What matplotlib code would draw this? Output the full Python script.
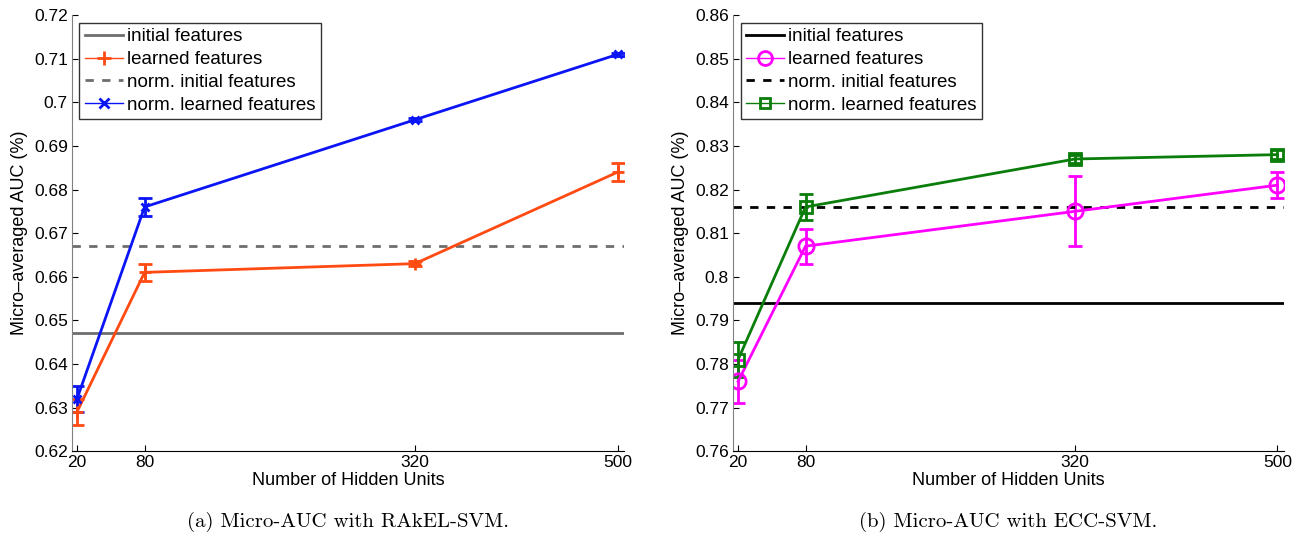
import matplotlib
matplotlib.use("Agg")
import matplotlib.pyplot as plt
from matplotlib.lines import Line2D
from matplotlib.ticker import FixedLocator, FuncFormatter

plt.rcParams["font.family"] = ["Liberation Sans", "DejaVu Sans"]

hidden_units = [20, 80, 320, 500]
series_labels = ["initial features", "learned features",
                 "norm. initial features", "norm. learned features"]

# (a) RAkEL-SVM
rakel_initial = 0.647
rakel_norm_initial = 0.667
rakel_learned = [0.629, 0.661, 0.663, 0.684]
rakel_learned_err = [0.003, 0.002, 0.0005, 0.002]
rakel_norm_learned = [0.632, 0.676, 0.696, 0.711]
rakel_norm_learned_err = [0.003, 0.002, 0.0003, 0.0003]

# (b) ECC-SVM
ecc_initial = 0.794
ecc_norm_initial = 0.816
ecc_learned = [0.776, 0.807, 0.815, 0.821]
ecc_learned_err = [0.005, 0.004, 0.008, 0.003]
ecc_norm_learned = [0.781, 0.816, 0.827, 0.828]
ecc_norm_learned_err = [0.004, 0.003, 0.001, 0.001]

captions = ["(a) Micro-AUC with RAkEL-SVM.", "(b) Micro-AUC with ECC-SVM."]

fig = plt.figure(figsize=(12.94, 5.39), dpi=100)
ax1 = fig.add_axes([0.0556, 0.163, 0.4266, 0.809])
ax2 = fig.add_axes([0.5665, 0.163, 0.4255, 0.809])


def style(ax, ylim):
    ax.set_xlim(15.5, 505.5)
    ax.set_ylim(*ylim)
    ax.spines["top"].set_visible(False)
    ax.spines["right"].set_visible(False)
    ax.spines["left"].set_color("#808080")
    ax.spines["bottom"].set_color("black")
    ax.xaxis.set_major_locator(FixedLocator(hidden_units))
    ax.yaxis.set_major_locator(FixedLocator(
        [round(ylim[0] + 0.01 * i, 2) for i in range(11)]))
    ax.yaxis.set_major_formatter(FuncFormatter(lambda v, p: f"{v:g}"))
    ax.tick_params(direction="in", length=4, width=0.8, labelsize=12.5, pad=3)
    ax.set_xlabel("Number of Hidden Units", fontsize=13, labelpad=1)
    ax.set_ylabel("Micro\u2013averaged AUC (%)", fontsize=13, labelpad=4)


def legend(ax, handles):
    leg = ax.legend(handles=handles, loc="upper left", fontsize=13.5, frameon=True,
                    fancybox=False, handlelength=2.0, handletextpad=0.25,
                    labelspacing=0.3, borderpad=0.3, borderaxespad=0.4)
    leg.get_frame().set_edgecolor("black")
    leg.get_frame().set_linewidth(1.0)


# panel (a)
c_init_a, c_learn_a, c_norm_a = "#6e6e6e", "#ff4a12", "#0a14f5"
ax1.axhline(rakel_initial, color=c_init_a, lw=2)
ax1.errorbar(hidden_units, rakel_learned, yerr=rakel_learned_err, color=c_learn_a,
             lw=2, marker="+", ms=9, mew=2, capsize=5, capthick=2, elinewidth=2)
ax1.axhline(rakel_norm_initial, color=c_init_a, lw=2, ls=(0, (3, 3)))
ax1.errorbar(hidden_units, rakel_norm_learned, yerr=rakel_norm_learned_err, color=c_norm_a,
             lw=2, marker="x", ms=6, mew=2, capsize=5, capthick=2, elinewidth=2)
style(ax1, (0.62, 0.72))
legend(ax1, [
    Line2D([], [], color=c_init_a, lw=2, label=series_labels[0]),
    Line2D([], [], color=c_learn_a, lw=1, marker="+", ms=10, mew=2, label=series_labels[1]),
    Line2D([], [], color=c_init_a, lw=2, ls=(0, (3, 3)), label=series_labels[2]),
    Line2D([], [], color=c_norm_a, lw=1, marker="x", ms=7, mew=2, label=series_labels[3]),
])

# panel (b)
c_init_b, c_learn_b, c_norm_b = "black", "#ff00ff", "#0a7d0a"
ax2.axhline(ecc_initial, color=c_init_b, lw=2)
ax2.errorbar(hidden_units, ecc_learned, yerr=ecc_learned_err, color=c_learn_b,
             lw=2, marker="o", ms=11, mfc="none", mew=2, capsize=5, capthick=2,
             elinewidth=2)
ax2.axhline(ecc_norm_initial, color=c_init_b, lw=2, ls=(0, (3, 3)))
ax2.errorbar(hidden_units, ecc_norm_learned, yerr=ecc_norm_learned_err, color=c_norm_b,
             lw=2, marker="s", ms=8, mfc="none", mew=2, capsize=5, capthick=2,
             elinewidth=2)
style(ax2, (0.76, 0.86))
legend(ax2, [
    Line2D([], [], color=c_init_b, lw=2, label=series_labels[0]),
    Line2D([], [], color=c_learn_b, lw=1, marker="o", ms=10, mfc="none", mew=2,
           label=series_labels[1]),
    Line2D([], [], color=c_init_b, lw=2, ls=(0, (3, 3)), label=series_labels[2]),
    Line2D([], [], color=c_norm_b, lw=1, marker="s", ms=7, mfc="none", mew=2,
           label=series_labels[3]),
])

fig.text(0.269, 0.031, captions[0], ha="center", va="center", fontsize=15,
         family=["cmr10", "DejaVu Serif"])
fig.text(0.779, 0.031, captions[1], ha="center", va="center", fontsize=15,
         family=["cmr10", "DejaVu Serif"])

fig.savefig("out.png", dpi=100)
